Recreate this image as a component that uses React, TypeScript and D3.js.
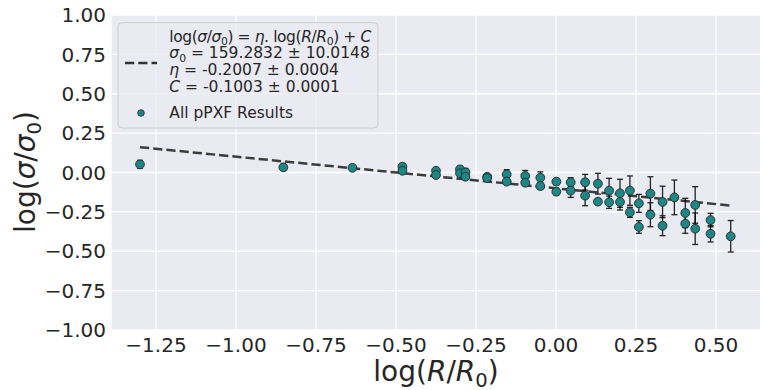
import React from 'react';
import * as d3 from 'd3';

const W = 763;
const H = 390;

// Data
const xVals = [-1.30, -0.852, -0.636, -0.480, -0.480, -0.375, -0.375, -0.300, -0.300, -0.283, -0.283, -0.215, -0.215, -0.154, -0.154, -0.096, -0.096, -0.049, -0.049, 0.001, 0.001, 0.046, 0.046, 0.091, 0.091, 0.131, 0.131, 0.166, 0.166, 0.200, 0.200, 0.231, 0.231, 0.259, 0.259, 0.295, 0.295, 0.333, 0.333, 0.370, 0.404, 0.404, 0.435, 0.435, 0.483, 0.483, 0.546];
const yVals = [0.052, 0.033, 0.030, 0.037, 0.011, 0.011, -0.016, 0.020, -0.005, 0.001, -0.027, -0.027, -0.035, -0.012, -0.058, -0.022, -0.065, -0.033, -0.086, -0.058, -0.122, -0.062, -0.115, -0.062, -0.147, -0.071, -0.185, -0.115, -0.189, -0.132, -0.187, -0.115, -0.253, -0.196, -0.346, -0.134, -0.268, -0.187, -0.338, -0.158, -0.257, -0.325, -0.206, -0.357, -0.302, -0.389, -0.405];
const yErrs = [0.025, 0.02, 0.01, 0.02, 0.015, 0.015, 0.01, 0.02, 0.015, 0.025, 0.01, 0.012, 0.01, 0.03, 0.015, 0.035, 0.015, 0.037, 0.02, 0.02, 0.02, 0.029, 0.043, 0.05, 0.064, 0.066, 0.017, 0.078, 0.039, 0.089, 0.051, 0.093, 0.032, 0.057, 0.04, 0.107, 0.076, 0.10, 0.063, 0.11, 0.093, 0.061, 0.116, 0.10, 0.043, 0.052, 0.10];

const eta = -0.2007;
const C = -0.1003;
const fitX = [-1.30, 0.55];

const xTicks = [-1.25, -1.0, -0.75, -0.5, -0.25, 0.0, 0.25, 0.5];
const yTicks = [-1.0, -0.75, -0.5, -0.25, 0.0, 0.25, 0.5, 0.75, 1.0];

const FONT = 'DejaVu Sans, Verdana, sans-serif';
const TXT = '#262626';
const TEAL = '#1f8686';

type Seg = { t: string; i?: boolean; sub?: boolean };

function MathText({ x, y, size, segs, anchor = 'start', transform, textLength }: { x: number; y: number; size: number; segs: Seg[]; anchor?: string; transform?: string; textLength?: number }) {
  let shifted = false;
  const subSize = size * 0.7;
  const shift = size * 0.22;
  return (
    <text x={x} y={y} fontSize={size} fontFamily={FONT} fill={TXT} textAnchor={anchor} transform={transform}
      textLength={textLength} lengthAdjust={textLength ? 'spacing' : undefined}>
      {segs.map((s, k) => {
        let dy = 0;
        if (s.sub && !shifted) { dy = shift; shifted = true; }
        else if (!s.sub && shifted) { dy = -shift; shifted = false; }
        return (
          <tspan key={k} dy={dy || undefined} fontStyle={s.i ? 'italic' : 'normal'} fontSize={s.sub ? subSize : size}>{s.t}</tspan>
        );
      })}
    </text>
  );
}

const fmt = (v: number) => (v < 0 ? '\u2212' : '') + Math.abs(v).toFixed(2);

export default function App() {
  const x = d3.scaleLinear().domain([-1.3884, 0.6375]).range([111.7, 760]);
  const y = d3.scaleLinear().domain([-1, 1]).range([330, 15]);
  const fitLine = d3.line<number>().x(d => x(d)).y(d => y(eta * d + C));

  const legX = 118, legY = 22.7, legW = 260, legH = 105.3;
  const textX = 169.3;
  const LS = 15.5;

  return (
    <svg width={W} height={H} style={{ position: 'absolute', left: 0, top: 0, background: '#fff' }}>
      <rect x={111.7} y={15} width={760 - 111.7} height={315} fill="#EAEAF2" />
      {xTicks.map(t => (
        <line key={'gx' + t} x1={x(t)} x2={x(t)} y1={15} y2={330} stroke="#fff" strokeWidth={1.3} />
      ))}
      {yTicks.map(t => (
        <line key={'gy' + t} x1={111.7} x2={760} y1={y(t)} y2={y(t)} stroke="#fff" strokeWidth={1.3} />
      ))}
      {xTicks.map(t => (
        <text key={'tx' + t} x={x(t)} y={352} fontSize={20} fontFamily={FONT} fill={TXT} textAnchor="middle">{fmt(t)}</text>
      ))}
      {yTicks.map(t => (
        <text key={'ty' + t} x={106} y={y(t)} dy="0.36em" fontSize={20} fontFamily={FONT} fill={TXT} textAnchor="end">{fmt(t)}</text>
      ))}

      <path d={fitLine(fitX) || ''} fill="none" stroke="#333" strokeWidth={2.5} strokeDasharray="9.25,4" opacity={0.95} />

      {xVals.map((xv, k) => {
        const px = x(xv);
        const y0 = y(yVals[k] - yErrs[k]);
        const y1 = y(yVals[k] + yErrs[k]);
        return (
          <g key={'e' + k} stroke="#000" strokeWidth={1.3} opacity={0.85}>
            <line x1={px} x2={px} y1={y0} y2={y1} />
            <line x1={px - 3} x2={px + 3} y1={y0} y2={y0} />
            <line x1={px - 3} x2={px + 3} y1={y1} y2={y1} />
          </g>
        );
      })}
      {xVals.map((xv, k) => (
        <circle key={'p' + k} cx={x(xv)} cy={y(yVals[k])} r={4.4} fill={TEAL} stroke="#1d2b2b" strokeWidth={0.9} />
      ))}

      {/* Legend */}
      <rect x={legX} y={legY} width={legW} height={legH} rx={4} fill="#EAEAF2" fillOpacity={0.8} stroke="#cccccc" strokeWidth={1} />
      <line x1={125} x2={157} y1={63} y2={63} stroke="#333" strokeWidth={2.5} strokeDasharray="9.25,4" />
      <MathText x={textX} y={41.7} size={LS} textLength={202} segs={[
        { t: 'log(' }, { t: '\u03c3', i: true }, { t: '/' }, { t: '\u03c3', i: true }, { t: '0', sub: true }, { t: ') = ' },
        { t: '\u03b7', i: true }, { t: '. log(' }, { t: 'R', i: true }, { t: '/' }, { t: 'R', i: true }, { t: '0', sub: true }, { t: ') + ' }, { t: 'C', i: true },
      ]} />
      <MathText x={textX} y={58.3} size={LS} segs={[
        { t: '\u03c3', i: true }, { t: '0', sub: true }, { t: ' = 159.2832 \u00b1 10.0148' },
      ]} />
      <MathText x={textX} y={75} size={LS} segs={[
        { t: '\u03b7', i: true }, { t: ' = -0.2007 \u00b1 0.0004' },
      ]} />
      <MathText x={textX} y={91.7} size={LS} segs={[
        { t: 'C', i: true }, { t: ' = -0.1003 \u00b1 0.0001' },
      ]} />
      <circle cx={141} cy={113} r={3.3} fill={TEAL} stroke="#1d2b2b" strokeWidth={0.8} />
      <text x={textX} y={118.3} fontSize={LS} fontFamily={FONT} fill={TXT}>All pPXF Results</text>

      {/* Axis labels */}
      <MathText x={436} y={381} size={28} anchor="middle" segs={[
        { t: 'log(' }, { t: 'R', i: true }, { t: '/' }, { t: 'R', i: true }, { t: '0', sub: true }, { t: ')' },
      ]} />
      <MathText x={0} y={0} size={28} anchor="middle" transform="translate(34.7,172) rotate(-90)" segs={[
        { t: 'log(' }, { t: '\u03c3', i: true }, { t: '/' }, { t: '\u03c3', i: true }, { t: '0', sub: true }, { t: ')' },
      ]} />
    </svg>
  );
}
